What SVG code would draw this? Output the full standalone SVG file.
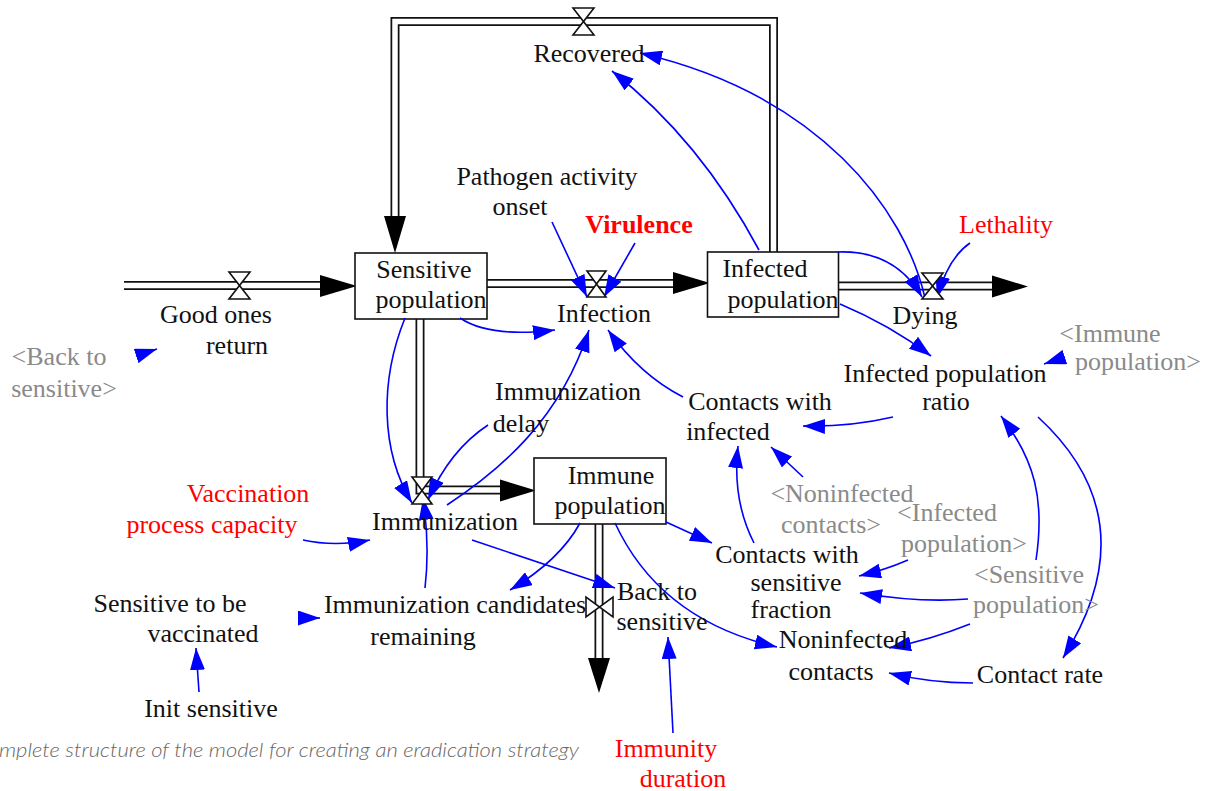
<svg xmlns="http://www.w3.org/2000/svg" width="1208" height="791" viewBox="0 0 1208 791" font-family="'Liberation Serif', 'DejaVu Serif', serif">
<style>
text{font-family:'Liberation Serif','DejaVu Serif',serif;font-size:26px;fill:#111;text-anchor:middle}
.g{fill:#8a8a8a}
.r{fill:#ff0000}
.b{font-weight:bold}
.cap{font-family:Lato,'Open Sans',sans-serif;font-style:italic;font-weight:300;font-size:20px;fill:#666;text-anchor:start}
.po{fill:none;stroke:#111;stroke-width:9}
.pi{fill:none;stroke:#fff;stroke-width:5.5}
.ah{fill:#000}
.valve{fill:#fff;stroke:#111;stroke-width:1.6;stroke-linejoin:miter}
.stock{fill:#fff;stroke:#111;stroke-width:1.6}
.lk{fill:none;stroke:#0000ff;stroke-width:1.6;marker-end:url(#ab)}
</style>
<defs>
<marker id="ab" viewBox="0 0 22 15" refX="22" refY="7.5" markerWidth="22" markerHeight="15" markerUnits="userSpaceOnUse" orient="auto">
<path d="M0,0 L22,7.5 L0,15 z" fill="#0000ff"/>
</marker>
</defs>
<rect width="1208" height="791" fill="#fff"/>

<g id="pipes">
<path class="po" d="M773.5,252 V21.5 H395 V218"/>
<path class="pi" d="M773.5,252 V21.5 H395 V218"/>
<polygon class="ah" points="384,216 406,216 395,253"/>
<path class="po" d="M124,285.5 H322"/>
<path class="pi" d="M124,285.5 H322"/>
<polygon class="ah" points="320,275 320,297 357,286"/>
<path class="po" d="M487,283.5 H675"/>
<path class="pi" d="M487,283.5 H675"/>
<polygon class="ah" points="673,272 673,294 710,283"/>
<path class="po" d="M839,286 H994"/>
<path class="pi" d="M839,286 H994"/>
<polygon class="ah" points="992,275.5 992,297.5 1028,286.5"/>
<path class="po" d="M420,319 V490 H502"/>
<path class="pi" d="M420,319 V490 H502"/>
<polygon class="ah" points="500,479.5 500,501.5 536,490.5"/>
<path class="po" d="M599,524 V660"/>
<path class="pi" d="M599,524 V660"/>
<polygon class="ah" points="588,658 610,658 599,693"/>
</g>

<g id="stocks">
<g id="sensitive-population">
<rect class="stock" x="355" y="253" width="132" height="66"/>
<text x="424" y="278">Sensitive</text>
<text x="431" y="308">population</text>
</g>
<g id="infected-population">
<rect class="stock" x="707.5" y="252" width="131" height="65"/>
<text x="765" y="277">Infected</text>
<text x="783" y="308">population</text>
</g>
<g id="immune-population">
<rect class="stock" x="534" y="458" width="132" height="66"/>
<text x="611" y="484">Immune</text>
<text x="610" y="514">population</text>
</g>
</g>

<g id="links">
<path class="lk" d="M759,250 Q700,140 612,71"/>
<path class="lk" d="M925,298 C905,210 820,95 640,53"/>
<path class="lk" d="M838,252 Q895,250 922,297"/>
<path class="lk" d="M970,243 Q948,258 937,298"/>
<path class="lk" d="M552,222 L587,297"/>
<path class="lk" d="M635,243 L604,297"/>
<path class="lk" d="M460,318 Q490,338 555,330"/>
<path class="lk" d="M447,505 C500,470 560,420 589,330"/>
<path class="lk" d="M683,397 Q640,375 608,330"/>
<path class="lk" d="M840,304 Q890,325 931,356"/>
<path class="lk" d="M1065,357 L1044,364"/>
<path class="lk" d="M893,417 Q850,427 803,426"/>
<path class="lk" d="M803,477 L771,447"/>
<path class="lk" d="M754,543 Q732,500 738,446"/>
<path class="lk" d="M1038,417 Q1150,520 1063,658"/>
<path class="lk" d="M1036,560 C1045,500 1035,460 1001,416"/>
<path class="lk" d="M908,560 Q885,570 859,576"/>
<path class="lk" d="M968,599 Q920,603 860,593"/>
<path class="lk" d="M970,624 Q930,640 889,648"/>
<path class="lk" d="M973,683 Q930,683 889,673"/>
<path class="lk" d="M666,522 L712,543"/>
<path class="lk" d="M615,523 Q660,620 777,647"/>
<path class="lk" d="M580,523 Q560,560 510,590"/>
<path class="lk" d="M472,540 L615,588"/>
<path class="lk" d="M673,733 L668,637"/>
<path class="lk" d="M199,692 L196,648"/>
<path class="lk" d="M298,618 L320,618"/>
<path class="lk" d="M425,588 Q430,545 423,498"/>
<path class="lk" d="M303,540 Q335,547 370,540"/>
<path class="lk" d="M405,318 C380,380 380,450 412,503"/>
<path class="lk" d="M488,425 Q450,450 428,500"/>
<path class="lk" d="M136,356 L157,349"/>
</g>

<g id="recovered">
<path class="valve" d="M573,8 H594 L573,35 H594 Z"/>
<text x="589" y="62">Recovered</text>
</g>
<g id="good-ones-return">
<path class="valve" d="M229,272 H250 L229,299 H250 Z"/>
<text x="216" y="323">Good ones</text>
<text x="237" y="354">return</text>
</g>
<g id="infection">
<path class="valve" d="M587,271 H606 L587,297 H606 Z"/>
<text x="604" y="322">Infection</text>
</g>
<g id="dying">
<path class="valve" d="M922,273 H943 L922,299 H943 Z"/>
<text x="925" y="324">Dying</text>
</g>
<g id="immunization">
<path class="valve" d="M412,477 H432 L412,504 H432 Z"/>
<text x="445" y="530">Immunization</text>
</g>
<g id="back-to-sensitive">
<path class="valve" d="M586,597 V617 L613,597 V617 Z"/>
<text x="657" y="600">Back to</text>
<text x="662" y="630">sensitive</text>
</g>

<g id="pathogen-activity-onset"><text x="547" y="185">Pathogen activity</text><text x="520" y="215">onset</text></g>
<g id="virulence"><text class="r b" x="639" y="233">Virulence</text></g>
<g id="lethality"><text class="r" x="1006" y="233">Lethality</text></g>
<g id="immune-population-shadow"><text class="g" x="1110" y="342">&lt;Immune</text><text class="g" x="1138" y="370">population&gt;</text></g>
<g id="infected-population-ratio"><text x="945" y="382">Infected population</text><text x="946" y="410">ratio</text></g>
<g id="back-to-sensitive-shadow"><text class="g" x="59" y="365">&lt;Back to</text><text class="g" x="64" y="397">sensitive&gt;</text></g>
<g id="immunization-delay"><text x="568" y="400">Immunization</text><text x="521" y="432">delay</text></g>
<g id="contacts-with-infected"><text x="760" y="410">Contacts with</text><text x="728" y="440">infected</text></g>
<g id="vaccination-process-capacity"><text class="r" x="248" y="502">Vaccination</text><text class="r" x="212" y="533">process capacity</text></g>
<g id="noninfected-contacts-shadow"><text class="g" x="842" y="502">&lt;Noninfected</text><text class="g" x="831" y="533">contacts&gt;</text></g>
<g id="infected-population-shadow"><text class="g" x="947" y="521">&lt;Infected</text><text class="g" x="964" y="552">population&gt;</text></g>
<g id="contacts-with-sensitive-fraction"><text x="787" y="563">Contacts with</text><text x="796" y="591">sensitive</text><text x="791" y="618">fraction</text></g>
<g id="sensitive-population-shadow"><text class="g" x="1029" y="583">&lt;Sensitive</text><text class="g" x="1036" y="613">population&gt;</text></g>
<g id="noninfected-contacts"><text x="843" y="648">Noninfected</text><text x="831" y="680">contacts</text></g>
<g id="contact-rate"><text x="1040" y="683">Contact rate</text></g>
<g id="sensitive-to-be-vaccinated"><text x="170" y="612">Sensitive to be</text><text x="203" y="642">vaccinated</text></g>
<g id="immunization-candidates-remaining"><text x="455" y="613">Immunization candidates</text><text x="423" y="645">remaining</text></g>
<g id="init-sensitive"><text x="211" y="717">Init sensitive</text></g>
<g id="immunity-duration"><text class="r" x="666" y="757">Immunity</text><text class="r" x="683" y="787">duration</text></g>

<text class="cap" x="-1" y="757" textLength="580" lengthAdjust="spacingAndGlyphs">mplete structure of the model for creating an eradication strategy</text>
</svg>
